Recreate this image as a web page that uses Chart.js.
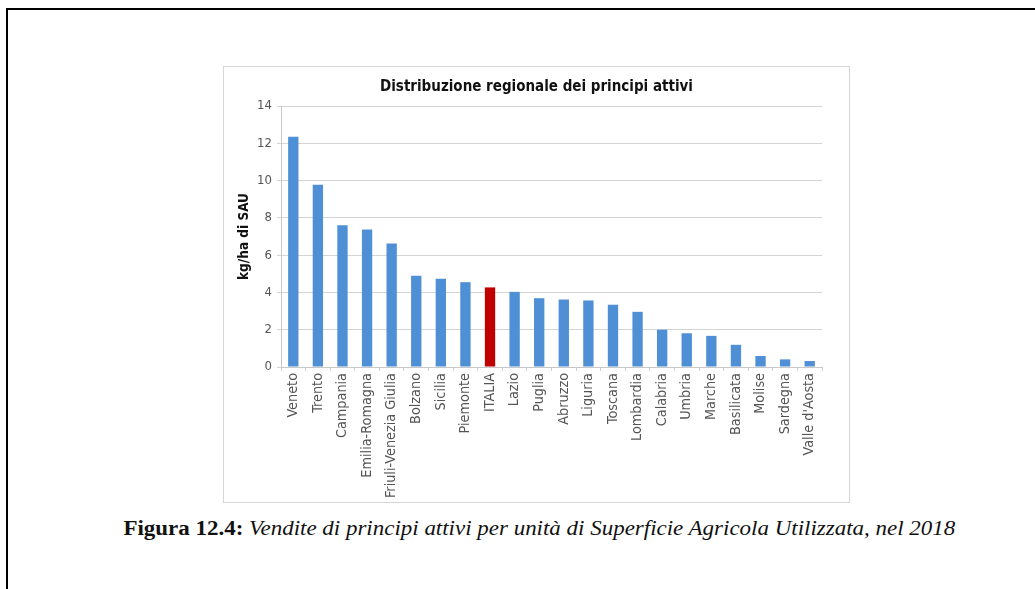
<!DOCTYPE html>
<html>
<head>
<meta charset="utf-8">
<script src="https://cdn.jsdelivr.net/npm/chart.js@4"></script>
<style>
  html, body { margin:0; padding:0; background:#fff; overflow:hidden; }
  body { width:1035px; height:589px; position:relative; }
  #frame { position:absolute; left:6px; top:8px; width:2000px; height:700px; border-left:2px solid #000; border-top:2px solid #000; }
  #mask { position:absolute; left:1015px; top:11px; width:40px; height:600px; background:#fff; z-index:10; }
  #box { position:absolute; left:223px; top:66px; width:627px; height:437px; border:1px solid #d6d6d6; box-sizing:border-box; }
  #caption { position:absolute; left:22px; top:517px; width:1035px; text-align:center; white-space:nowrap;
             font-size:20px; color:#111; }
  #caption span.inner { display:inline-block; transform-origin:center; }
</style>
</head>
<body>
<div id="frame"></div>
<div id="mask"></div>
<div id="box"><canvas id="chart-bar"></canvas></div>
<div id="caption"><span class="inner" id="capInner"><b>Figura 12.4:</b> <i>Vendite di principi attivi per unità di Superficie Agricola Utilizzata, nel 2018</i></span></div>
<script>
/* ---- dati ---- */
const regions = ['Veneto','Trento','Campania','Emilia-Romagna','Friuli-Venezia Giulia','Bolzano','Sicilia','Piemonte','ITALIA','Lazio','Puglia','Abruzzo','Liguria','Toscana','Lombardia','Calabria','Umbria','Marche','Basilicata','Molise','Sardegna',"Valle d'Aosta"];
const kgHa    = [12.35, 9.78, 7.61, 7.38, 6.62, 4.90, 4.74, 4.55, 4.27, 4.03, 3.69, 3.62, 3.57, 3.34, 2.96, 2.00, 1.81, 1.67, 1.19, 0.59, 0.41, 0.32];
const yTicks  = [0, 2, 4, 6, 8, 10, 12, 14];

const BLUE = '#4f8fd6', RED = '#c00000';

// pick the first installed font from a list
function pickFont(list, fallback){
  const c = document.createElement('canvas').getContext('2d');
  const probe = 'Distribuzione regionale 1234 WMgil';
  c.font = '20px monospace'; const mono = c.measureText(probe).width;
  c.font = '20px serif'; const ser = c.measureText(probe).width;
  for(const f of list){
    c.font = '20px "' + f + '", monospace'; const a = c.measureText(probe).width;
    c.font = '20px "' + f + '", serif'; const b = c.measureText(probe).width;
    if(a !== mono || b !== ser) return '"' + f + '"';
  }
  return fallback;
}
const narrow = pickFont(['Liberation Sans Narrow','Arial Narrow','DejaVu Sans Condensed','Liberation Sans','Arial'], 'sans-serif');
const serifF = pickFont(['Liberation Serif','Times New Roman','Tinos','Nimbus Roman','DejaVu Serif'], 'serif');

// caption: fit to the reference width
const capEl = document.getElementById('caption');
capEl.style.fontFamily = serifF + ', serif';
const cap = document.getElementById('capInner');
const w = cap.getBoundingClientRect().width;
cap.style.transform = 'scaleX(' + (832 / w).toFixed(3) + ')';

const cv = document.getElementById('chart-bar');
new Chart(cv, {
  type: 'bar',
  data: {
    labels: regions,
    datasets: [{
      data: kgHa,
      backgroundColor: regions.map(r => r === 'ITALIA' ? RED : BLUE),
      barPercentage: 0.42, categoryPercentage: 1
    }]
  },
  options: {
    responsive: true, maintainAspectRatio: false, animation: false,
    layout: { padding: 0 },
    plugins: {
      legend: { display: false },
      tooltip: { enabled: false },
      title: {
        display: true, text: 'Distribuzione regionale dei principi attivi',
        color: '#111', font: { family: narrow, size: 15, weight: 'bold', lineHeight: 1.2 },
        padding: { top: 11, bottom: 10 }
      }
    },
    scales: {
      x: {
        grid: { display: true, drawOnChartArea: false, offset: true, tickLength: 4, color: '#d0d0d0' },
        border: { color: '#c8c8c8' },
        ticks: { color: '#555', font: { family: narrow, size: 14.3 }, minRotation: 90, maxRotation: 90, autoSkip: false, padding: 2 },
        afterFit: s => { s.height = 135; }
      },
      y: {
        min: 0, max: 14,
        afterBuildTicks: s => { s.ticks = yTicks.map(v => ({ value: v })); },
        grid: { color: '#d4d4d4', tickLength: 4 },
        border: { color: '#c8c8c8' },
        ticks: { color: '#555', font: { family: narrow, size: 13 }, padding: 5 },
        title: { display: true, text: 'kg/ha di SAU', color: '#111', font: { family: narrow, size: 13.5, weight: 'bold' }, padding: { top: 12, bottom: 0 } },
        afterFit: s => { s.width = 57; }
      },
      // empty right margin so the title stays centred on the whole box
      yR: {
        position: 'right', display: true,
        grid: { display: false }, border: { display: false }, ticks: { display: false },
        afterFit: s => { s.width = 27; }
      }
    }
  }
});
</script>
</body>
</html>
